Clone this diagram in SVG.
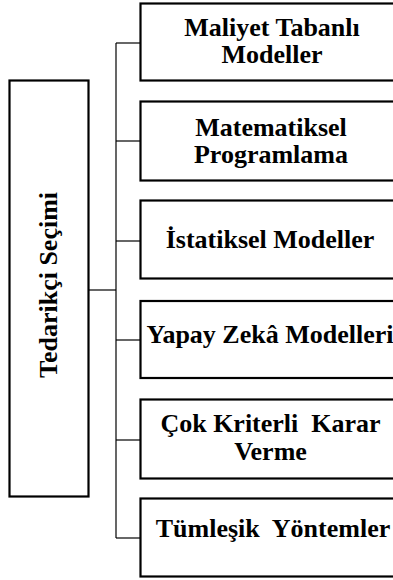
<svg xmlns="http://www.w3.org/2000/svg" width="393" height="580" viewBox="0 0 393 580">
<style>
.box{fill:#fff;stroke:#000;stroke-width:2.2}
.t{font-family:"Liberation Serif","Times New Roman",serif;font-weight:bold;font-size:26px;fill:#000;text-anchor:middle;white-space:pre}
.c{stroke:#000;stroke-width:1.2;fill:none}
</style>
<rect width="393" height="580" fill="#fff"/>
<g id="connectors">
<line class="c" x1="116" y1="43" x2="116" y2="538"/>
<line class="c" x1="89" y1="290" x2="116" y2="290" stroke-width="1.6"/>
<line class="c" x1="116" y1="43" x2="140" y2="43"/>
<line class="c" x1="116" y1="141" x2="140" y2="141"/>
<line class="c" x1="116" y1="241" x2="140" y2="241" stroke-width="1.6"/>
<line class="c" x1="116" y1="340" x2="140" y2="340"/>
<line class="c" x1="116" y1="440" x2="140" y2="440"/>
<line class="c" x1="116" y1="538" x2="140" y2="538"/>
</g>
<g id="root">
<rect class="box" x="9.5" y="80.5" width="79" height="416"/>
<text class="t" transform="translate(56.5,285) rotate(-90)">Tedarikçi Seçimi</text>
</g>
<g id="n1">
<rect class="box" x="140.5" y="3.5" width="264" height="77"/>
<text class="t" x="272" y="35.5">Maliyet Tabanlı</text>
<text class="t" x="272" y="62.5">Modeller</text>
</g>
<g id="n2">
<rect class="box" x="140.5" y="101.5" width="264" height="79"/>
<text class="t" x="271" y="136">Matematiksel</text>
<text class="t" x="271" y="163">Programlama</text>
</g>
<g id="n3">
<rect class="box" x="140.5" y="200.5" width="264" height="78"/>
<text class="t" x="270" y="248">İstatiksel Modeller</text>
</g>
<g id="n4">
<rect class="box" x="140.5" y="301" width="264" height="77"/>
<text class="t" x="270" y="343">Yapay Zekâ Modelleri</text>
</g>
<g id="n5">
<rect class="box" x="140.5" y="399.5" width="264" height="79"/>
<text class="t" x="270.5" y="431.5">Çok Kriterli  Karar</text>
<text class="t" x="270.5" y="460">Verme</text>
</g>
<g id="n6">
<rect class="box" x="140.5" y="498.5" width="264" height="78"/>
<text class="t" x="273" y="536.5">Tümleşik  Yöntemler</text>
</g>
</svg>
